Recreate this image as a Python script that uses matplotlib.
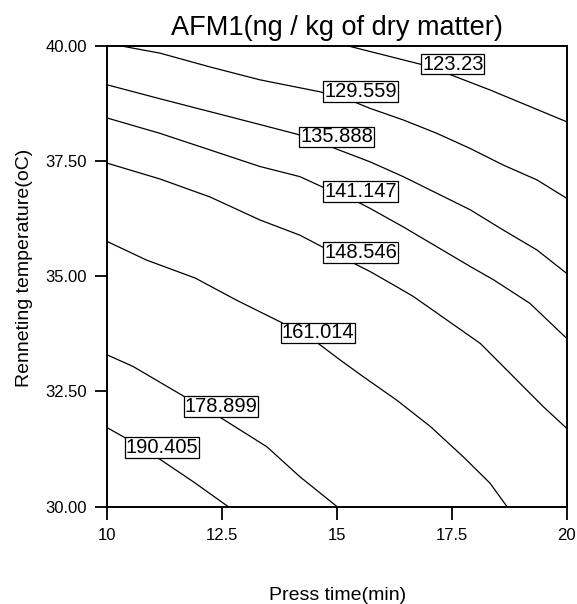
import matplotlib
matplotlib.use('Agg')
import matplotlib.pyplot as plt

# contour levels (ng / kg of dry matter) and their lines
levels = ['123.23', '129.559', '135.888', '141.147', '148.546', '161.014', '178.899', '190.405']

x_123 = [15.22, 16.81, 17.42, 18.33, 20.0]
y_123 = [40.0, 39.60, 39.39, 39.04, 38.35]

x_129 = [10.27, 11.14, 12.23, 13.32, 14.63, 15.35, 15.72, 16.44, 17.17, 17.90, 18.62, 19.35, 20.0]
y_129 = [40.0, 39.84, 39.54, 39.26, 39.00, 38.79, 38.64, 38.39, 38.10, 37.77, 37.41, 37.09, 36.69]

x_135 = [10.0, 11.14, 12.23, 13.32, 14.13, 14.88, 15.72, 16.44, 17.17, 17.90, 18.62, 19.35, 20.0]
y_135 = [39.15, 38.85, 38.57, 38.29, 38.08, 37.80, 37.48, 37.16, 36.80, 36.44, 36.00, 35.57, 35.06]

x_141 = [10.0, 11.14, 12.23, 13.32, 14.19, 14.67, 15.43, 15.72, 16.44, 17.17, 17.90, 18.41, 19.20, 20.0]
y_141 = [38.43, 38.10, 37.74, 37.38, 37.16, 36.94, 36.62, 36.47, 36.07, 35.64, 35.21, 34.92, 34.41, 33.65]

x_148 = [10.0, 11.14, 12.23, 13.32, 14.19, 14.67, 15.50, 15.72, 16.30, 16.66, 17.39, 18.12, 18.84, 19.49, 20.0]
y_148 = [37.45, 37.11, 36.72, 36.22, 35.89, 35.64, 35.21, 35.10, 34.77, 34.56, 34.05, 33.54, 32.82, 32.17, 31.70]

x_161 = [10.0, 10.85, 11.91, 12.81, 13.76, 14.59, 15.07, 15.57, 16.30, 17.03, 17.75, 18.33, 18.70]
y_161 = [35.75, 35.35, 34.96, 34.48, 34.01, 33.54, 33.18, 32.82, 32.31, 31.74, 31.08, 30.51, 30.0]

x_178 = [10.0, 10.56, 11.62, 12.45, 13.47, 14.19, 15.0]
y_178 = [33.29, 33.04, 32.42, 31.94, 31.30, 30.65, 30.0]

x_190 = [10.0, 10.34, 11.14, 11.87, 12.63]
y_190 = [31.71, 31.52, 31.03, 30.54, 30.0]

# where each label box sits
label_x = [17.52, 15.51, 14.99, 15.51, 15.51, 14.58, 12.47, 11.18]
label_y = [39.60, 39.01, 38.02, 36.84, 35.51, 33.77, 32.17, 31.28]

xticks = [10, 12.5, 15, 17.5, 20]
yticks = [30.0, 32.5, 35.0, 37.5, 40.0]

lines_x = [x_123, x_129, x_135, x_141, x_148, x_161, x_178, x_190]
lines_y = [y_123, y_129, y_135, y_141, y_148, y_161, y_178, y_190]

plt.rcParams['font.family'] = ['Liberation Sans', 'DejaVu Sans']

fig = plt.figure(figsize=(5.77, 6.04), dpi=100)
ax = fig.add_axes([0.1863, 0.1611, 0.7959, 0.7632])

for xs, ys in zip(lines_x, lines_y):
    ax.plot(xs, ys, color='black', lw=0.9, zorder=2)

for lab, lx, ly in zip(levels, label_x, label_y):
    ax.text(lx, ly, lab, fontsize=14.5, ha='center', va='center', zorder=3,
            bbox=dict(boxstyle='square,pad=0.04', fc='white', ec='black', lw=0.9))

ax.set_xlim(10, 20)
ax.set_ylim(30, 40)
ax.set_xticks(xticks)
ax.set_xticklabels(['10', '12.5', '15', '17.5', '20'])
ax.set_yticks(yticks)
ax.set_yticklabels(['%.2f' % v for v in yticks])
ax.tick_params(direction='out', length=9, width=1.3, labelsize=12, pad=6)
for s in ax.spines.values():
    s.set_linewidth(1.4)

ax.set_title('AFM1(ng / kg of dry matter)', fontsize=19.5, pad=7.7)
ax.set_xlabel('Press time(min)', fontsize=14)
ax.set_ylabel('Renneting temperature(oC)', fontsize=14)
ax.xaxis.label.set_va('baseline')
ax.xaxis.set_label_coords(0.5, -0.2024)
ax.yaxis.set_label_coords(-0.162, 0.517)

fig.savefig('out.png', dpi=100)
